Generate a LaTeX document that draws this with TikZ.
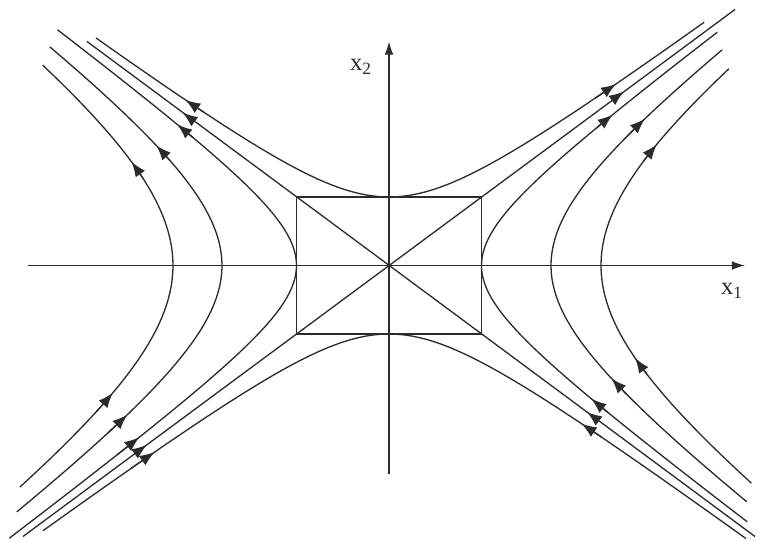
\documentclass[tikz,border=0pt]{standalone}
\usepackage{fontspec}
\setmainfont{Liberation Serif}
\usepackage{tikz}
\usetikzlibrary{arrows.meta}
\definecolor{Ink}{HTML}{2B2B2B}

\begin{document}
\begin{tikzpicture}[x=0.02cm,y=0.02cm,>={Latex[length=8.5pt,width=6.5pt]},
    curve/.style={draw=Ink,line width=0.75pt},
    flow/.style={curve,->},
    axis/.style={curve,-{Latex[length=7.5pt,width=5pt]}},
    axlabel/.style={font=\fontsize{14}{16}\selectfont,text=Ink,inner sep=1pt}]
    \useasboundingbox (-389,-275.5) rectangle (373,265.5);
    % axes
    \coordinate (O) at (0,0);
    \coordinate (xleft) at (-361,0);
    \coordinate (xright) at (356,0);
    \coordinate (ybottom) at (0,-209);
    \coordinate (ytop) at (0,224);
    \draw[axis] (xleft) -- (xright);
    \draw[axis] (ybottom) -- (ytop);
    \node[axlabel] (labx1) at (343,-25) {x\textsubscript{1}};
    \node[axlabel] (labx2) at (-28,199) {x\textsubscript{2}};
    % box and its diagonals (asymptotes)
    \coordinate (boxsw) at (-92.5,-68.5);
    \coordinate (boxne) at (92.5,68.5);
    \draw[curve] (boxsw) rectangle (boxne);
    \coordinate (diagsw) at (-366,-271);
    \coordinate (diagne) at (346,256);
    \coordinate (diagnw) at (-302,224);
    \coordinate (diagse) at (366,-271);
    \draw[curve] (diagsw) -- (diagne);
    \draw[curve] (diagnw) -- (diagse);
    % hyperbolas
    \foreach \A/\B/\ta/\tb in {92.5/68.5/-2.09/1.95,167/123.7/-1.44/1.335,216/159.9/-1.13/1.05}
        \draw[curve] plot[domain=\ta:\tb,samples=60] ({-\A*cosh(\x)},{\B*sinh(\x)});
    \foreach \A/\B/\ta/\tb in {92.5/68.5/-2.03/1.94,162/120/-1.43/1.35,212/157/-1.13/1.05}
        \draw[curve] plot[domain=\ta:\tb,samples=60] ({\A*cosh(\x)},{\B*sinh(\x)});
    \draw[curve] plot[domain=-1.87:1.94,samples=60] ({92.5*sinh(\x)},{68.5*cosh(\x)});
    \draw[curve] plot[domain=-2.03:2.06,samples=60] ({92.5*sinh(\x)},{-68.5*cosh(\x)});
    % direction arrows
    \foreach \A/\B/\ta/\tb in {92.5/68.5/1.38/1.47,92.5/68.5/-1.74/-1.65,167/123.7/0.77/0.86,167/123.7/-1.11/-1.02,216/159.9/0.52/0.61,216/159.9/-0.82/-0.73}
        \draw[flow] plot[domain=\ta:\tb,samples=4] ({-\A*cosh(\x)},{\B*sinh(\x)});
    \foreach \A/\B/\ta/\tb in {92.5/68.5/1.44/1.53,92.5/68.5/-1.51/-1.42,162/120/0.94/1.03,162/120/-0.93/-0.84,212/157/0.62/0.71,212/157/-0.65/-0.56}
        \draw[flow] plot[domain=\ta:\tb,samples=4] ({\A*cosh(\x)},{\B*sinh(\x)});
    \foreach \ta/\tb in {-1.44/-1.53,1.54/1.63}
        \draw[flow] plot[domain=\ta:\tb,samples=4] ({92.5*sinh(\x)},{68.5*cosh(\x)});
    \foreach \ta/\tb in {-1.75/-1.66,1.57/1.48}
        \draw[flow] plot[domain=\ta:\tb,samples=4] ({92.5*sinh(\x)},{-68.5*cosh(\x)});
    \foreach \ta/\tb in {2.44/2.54,-2.72/-2.62}
        \draw[flow] plot[domain=\ta:\tb,samples=3] ({92.5*\x},{68.5*\x});
    \foreach \ta/\tb in {2.13/2.23,-2.24/-2.14}
        \draw[flow] plot[domain=\ta:\tb,samples=3] ({-92.5*\x},{68.5*\x});
\end{tikzpicture}
\end{document}
